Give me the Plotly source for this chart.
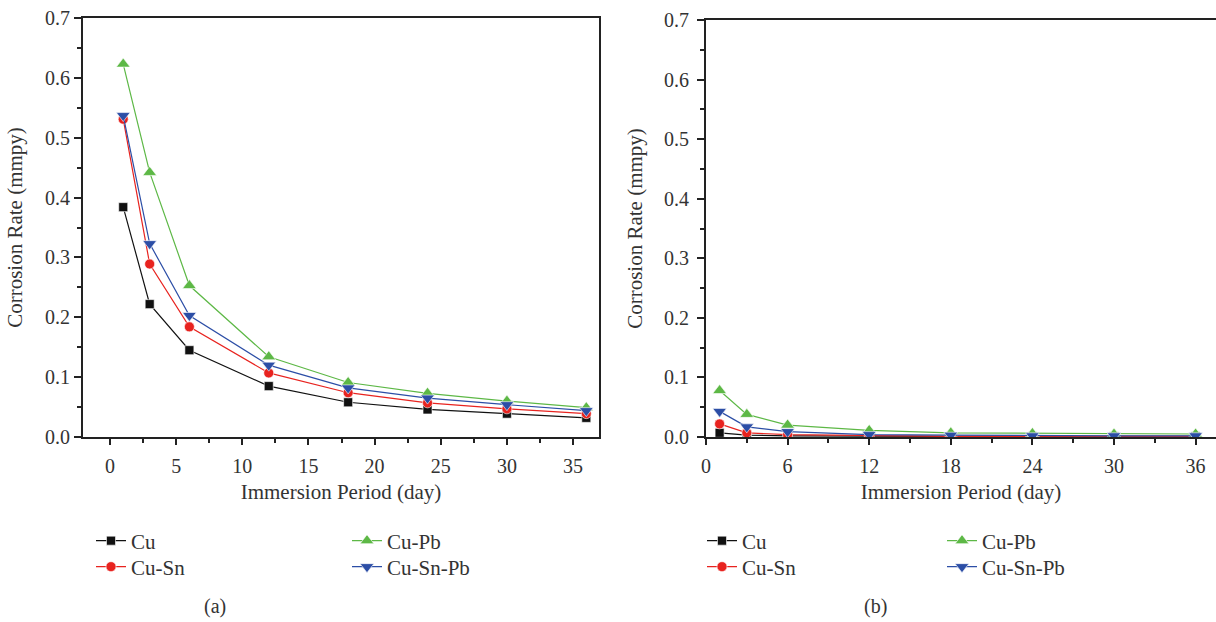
import plotly.graph_objects as go

days = [1, 3, 6, 12, 18, 24, 30, 36]
series = ["Cu", "Cu-Sn", "Cu-Pb", "Cu-Sn-Pb"]

# (a) corrosion rate, mmpy
a_cu = [0.384, 0.222, 0.145, 0.085, 0.058, 0.046, 0.039, 0.032]
a_cusn = [0.531, 0.289, 0.184, 0.107, 0.074, 0.057, 0.047, 0.039]
a_cupb = [0.623, 0.442, 0.253, 0.134, 0.091, 0.073, 0.060, 0.049]
a_cusnpb = [0.537, 0.323, 0.203, 0.120, 0.082, 0.065, 0.054, 0.044]

# (b) corrosion rate, mmpy
b_cu = [0.007, 0.003, 0.002, 0.001, 0.001, 0.001, 0.001, 0.001]
b_cusn = [0.022, 0.007, 0.004, 0.002, 0.001, 0.001, 0.001, 0.001]
b_cupb = [0.078, 0.038, 0.020, 0.011, 0.007, 0.006, 0.005, 0.005]
b_cusnpb = [0.043, 0.017, 0.009, 0.004, 0.003, 0.002, 0.002, 0.002]

colors = {"Cu": "#111111", "Cu-Sn": "#e8231f", "Cu-Pb": "#5db846", "Cu-Sn-Pb": "#2c4ea6"}
symbols = {"Cu": "square", "Cu-Sn": "circle", "Cu-Pb": "triangle-up", "Cu-Sn-Pb": "triangle-down"}
msize = {"Cu": 9, "Cu-Sn": 10, "Cu-Pb": 12, "Cu-Sn-Pb": 12}

FONT = "Liberation Serif"
TXT = "#333333"

fig = go.Figure()

panels = [
    ("x", "y", [a_cu, a_cusn, a_cupb, a_cusnpb], ["legend", "legend2", "legend3", "legend4"]),
    ("x2", "y2", [b_cu, b_cusn, b_cupb, b_cusnpb], ["legend5", "legend6", "legend7", "legend8"]),
]
for xa, ya, vals, legs in panels:
    for name, v, lg in zip(series, vals, legs):
        fig.add_trace(go.Scatter(
            x=days, y=v, name=name, mode="lines+markers", xaxis=xa, yaxis=ya,
            legend=lg, showlegend=True,
            line=dict(color=colors[name], width=1.2),
            marker=dict(symbol=symbols[name], size=msize[name], color=colors[name],
                        line=dict(color="white", width=0.6)),
        ))

# legend positions (px): row 1 = Cu, Cu-Pb; row 2 = Cu-Sn, Cu-Sn-Pb
W, H = 1216, 622
leg_pos = {
    "legend": (87, 541), "legend2": (87, 567), "legend3": (343, 541), "legend4": (343, 567),
    "legend5": (698, 541), "legend6": (698, 567), "legend7": (938, 541), "legend8": (938, 567),
}
legend_layout = {}
for k, (px, py) in leg_pos.items():
    legend_layout[k] = dict(
        x=(px + 4) / W, y=1 - py / H, xanchor="left", yanchor="middle",
        font=dict(family=FONT, size=21, color=TXT), bgcolor="rgba(0,0,0,0)",
        borderwidth=0, visible=True,
    )

axis_common = dict(
    showline=True, linecolor="#222222", linewidth=2, ticks="outside",
    tickcolor="#222222", tickwidth=1.5, showgrid=False, zeroline=False,
    automargin=False,
    tickfont=dict(family=FONT, size=20, color=TXT),
    title_font=dict(family=FONT, size=21, color=TXT),
)

fig.update_layout(
    width=W, height=H, margin=dict(l=0, r=0, t=0, b=0, autoexpand=False),
    showlegend=True,
    paper_bgcolor="white", plot_bgcolor="white",
    xaxis=dict(domain=[83 / W, 599 / W], range=[-2.04, 36.96], dtick=5, tick0=0,
               ticklen=6, mirror=True, anchor="y", ticklabelstandoff=4,
               minor=dict(dtick=2.5, ticklen=4, ticks="outside", tickcolor="#222222"),
               title=dict(text="Immersion Period (day)", standoff=8), **axis_common),
    yaxis=dict(domain=[1 - 437 / H, 1 - 18 / H], range=[0, 0.7], dtick=0.1,
               tickformat=".1f", ticklen=7, mirror=True, anchor="x",
               minor=dict(dtick=0.05, ticklen=4, ticks="outside", tickcolor="#222222"),
               title=dict(text="Corrosion Rate (mmpy)", standoff=17), **axis_common),
    xaxis2=dict(domain=[706 / W, 1.0], range=[0, 37.5], dtick=6, tick0=0,
                ticklen=6, mirror=True, anchor="y2", ticklabelstandoff=4,
                minor=dict(dtick=3, ticklen=4, ticks="outside", tickcolor="#222222"),
                title=dict(text="Immersion Period (day)", standoff=8), **axis_common),
    yaxis2=dict(domain=[1 - 437 / H, 1 - 20 / H], range=[0, 0.7], dtick=0.1,
                tickformat=".1f", ticklen=7, mirror=False, anchor="x2",
                ticklabelstandoff=4,
                minor=dict(dtick=0.05, ticklen=4, ticks="outside", tickcolor="#222222"),
                title=dict(text="Corrosion Rate (mmpy)", standoff=16), **axis_common),
    annotations=[
        dict(text="(a)", x=215 / W, y=1 - 606 / H, xref="paper", yref="paper",
             xanchor="center", yanchor="middle",
             showarrow=False, font=dict(family=FONT, size=20, color=TXT)),
        dict(text="(b)", x=875 / W, y=1 - 606 / H, xref="paper", yref="paper",
             xanchor="center", yanchor="middle",
             showarrow=False, font=dict(family=FONT, size=20, color=TXT)),
    ],
    **legend_layout,
)

fig.write_html("out.html")
